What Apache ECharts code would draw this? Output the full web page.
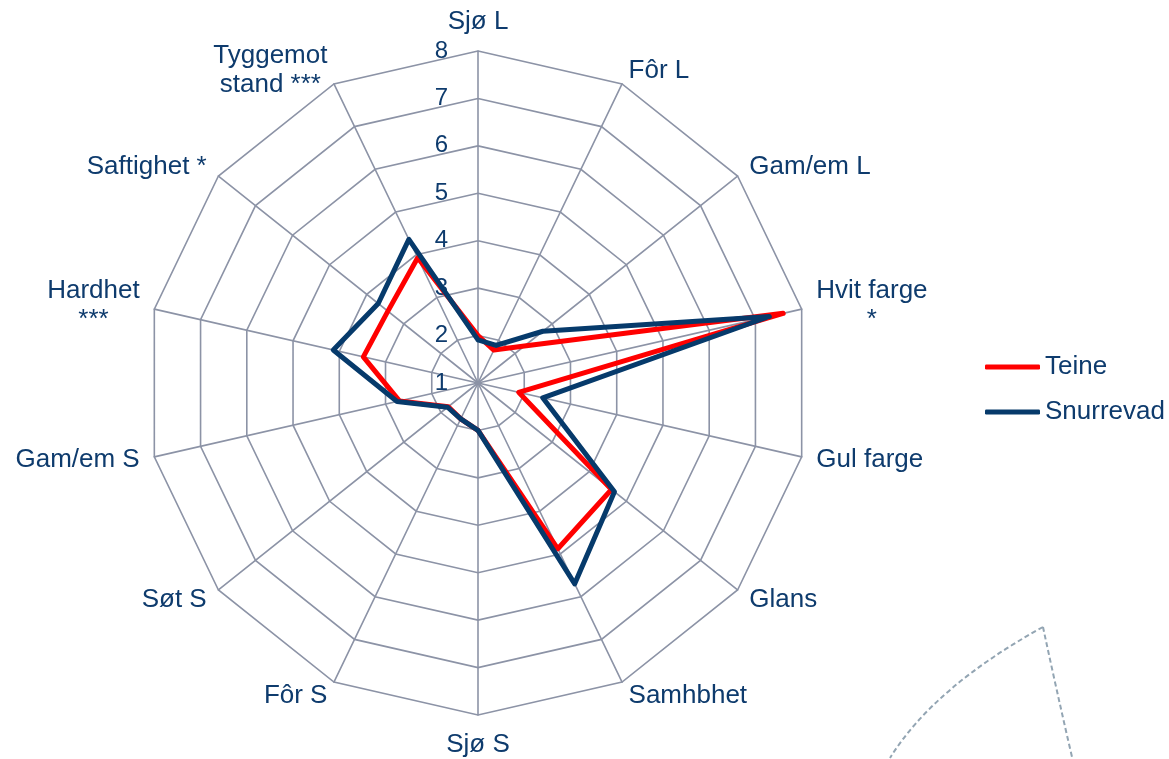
<!DOCTYPE html>
<html>
<head>
<meta charset="utf-8">
<script src="https://cdn.jsdelivr.net/npm/echarts@6/dist/echarts.min.js"></script>
<style>
  html, body { margin: 0; padding: 0; background: #fff; }
  #chart { width: 1169px; height: 759px; }
</style>
</head>
<body>
<div id="chart"></div>
<script>
// indicators, clockwise from the top
var attributes = ['Sjø L', 'Fôr L', 'Gam/em L', 'Hvit farge\n*', 'Gul farge', 'Glans', 'Samhbhet',
    'Sjø S', 'Fôr S', 'Søt S', 'Gam/em S', 'Hardhet\n***', 'Saftighet *', 'Tyggemot\nstand ***'];
var teine     = [2.0, 1.77, 2.25, 7.6, 1.88, 4.6, 4.88, 2.0, 1.84, 1.8, 2.7, 3.48, 3.43, 3.93];
var snurrevad = [1.91, 1.88, 2.75, 7.3, 2.4, 4.68, 5.7, 2.0, 1.84, 1.82, 2.75, 4.13, 3.69, 4.36];
var scaleMin = 1, scaleMax = 8;

var textColor = '#0E3B6D';
var gridColor = '#8C93A6';
var font = 'Liberation Sans, Arial, sans-serif';

// echarts lays radar indicators out counter-clockwise, so keep the first one and reverse the rest
function ccw(arr) {
    return [arr[0]].concat(arr.slice(1).reverse());
}

var indicator = ccw(attributes).map(function (name, i) {
    var ind = {name: name, min: scaleMin, max: scaleMax};
    if (i === 0) {
        ind.axisLabel = {show: true, color: textColor, fontSize: 24, fontFamily: font, margin: 30};
    }
    return ind;
});

var dom = document.getElementById('chart');
var myChart = echarts.init(dom);
var option = {
    animation: false,
    legend: {
        orient: 'vertical',
        left: 985,
        top: 354,
        padding: 0,
        icon: 'roundRect',
        itemWidth: 55,
        itemHeight: 5,
        itemGap: 19,
        textStyle: {color: textColor, fontSize: 26, fontFamily: font, padding: [0, 0, 0, 0]},
        data: ['Teine', 'Snurrevad']
    },
    radar: {
        center: [478, 383],
        radius: 332,
        shape: 'polygon',
        splitNumber: 7,
        nameGap: 15,
        indicator: indicator,
        axisName: {
            color: textColor,
            fontSize: 26,
            fontFamily: font,
            formatter: function (name) {
                return name.split('\n').map(function (s) { return '{c|' + s + '}'; }).join('\n');
            },
            rich: {
                c: {align: 'center', color: textColor, fontSize: 26, fontFamily: font, lineHeight: 29}
            }
        },
        axisLine: {lineStyle: {color: gridColor, width: 1.6}},
        splitLine: {lineStyle: {color: gridColor, width: 1.6}},
        splitArea: {show: false}
    },
    graphic: [
        {
            type: 'bezierCurve', silent: true,
            shape: {x1: 1043, y1: 627, x2: 890, y2: 758, cpx1: 934, cpy1: 687},
            style: {stroke: '#93A5B3', lineWidth: 2, lineDash: [5, 3], fill: null}
        },
        {
            type: 'bezierCurve', silent: true,
            shape: {x1: 1043, y1: 627, x2: 1072, y2: 757, cpx1: 1056, cpy1: 688},
            style: {stroke: '#93A5B3', lineWidth: 2, lineDash: [5, 3], fill: null}
        }
    ],
    series: [
        {
            name: 'Teine',
            type: 'radar',
            symbol: 'none',
            z: 3,
            itemStyle: {color: '#FF0000'},
            lineStyle: {color: '#FF0000', width: 5, join: 'round', cap: 'round'},
            data: [{name: 'Teine', value: ccw(teine)}]
        },
        {
            name: 'Snurrevad',
            type: 'radar',
            symbol: 'none',
            z: 4,
            itemStyle: {color: '#063A6B'},
            lineStyle: {color: '#063A6B', width: 5, join: 'round', cap: 'round'},
            data: [{name: 'Snurrevad', value: ccw(snurrevad)}]
        }
    ]
};
if (option && typeof option === 'object') {
    myChart.setOption(option, true);
}
</script>
</body>
</html>
